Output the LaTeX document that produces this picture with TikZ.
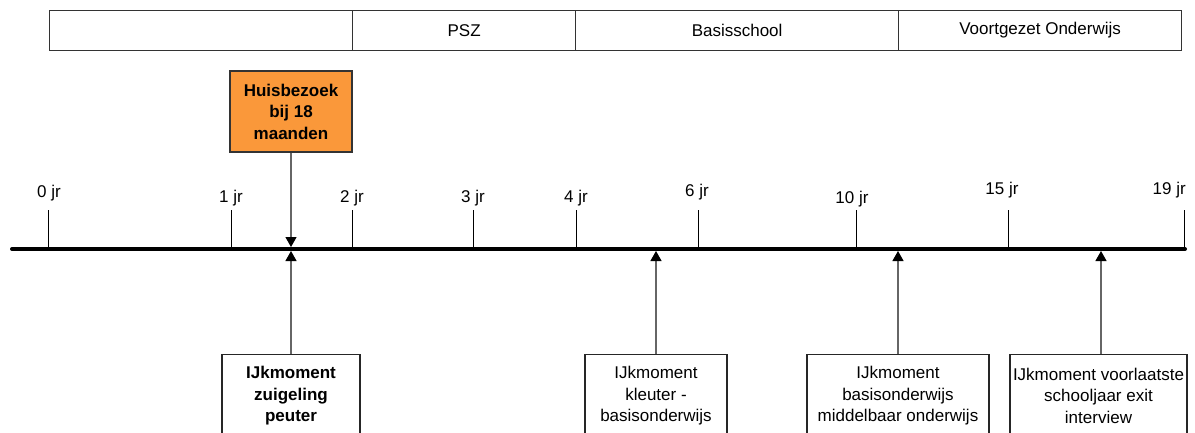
\documentclass[tikz,border=0pt]{standalone}
\usepackage{fontspec}
\setmainfont{Liberation Sans}
\usepackage{tikz}
\usetikzlibrary{arrows.meta}
\definecolor{huisoranje}{RGB}{250,152,58}
\newcommand{\tlfont}{\fontsize{17}{21.5}\selectfont}

\begin{document}
\begin{tikzpicture}[x=1pt,y=-1pt,font=\tlfont]
\tikzstyle{every node}+=[inner sep=0pt]
\tikzstyle{fase}=[draw=black!80,line width=1.2pt,minimum height=40pt,anchor=north west]
\tikzstyle{ijk}=[draw=black!85,line width=1.2pt,anchor=north,minimum height=82pt,align=center]
\tikzstyle{pijl}=[draw=black!60,line width=1.2pt,-{Triangle[width=11pt,length=10pt,color=black]}]
\useasboundingbox (0,0) rectangle (1195,432);
\clip (0,0) rectangle (1195,432);
\node [fase,minimum width=303pt] (leeg) at (49,10) {};
\node [fase,minimum width=223pt] (psz) at (352,10) {PSZ};
\node [fase,minimum width=323pt] (bs) at (575,10) {Basisschool};
\node [fase,minimum width=283pt] (vo) at (898,10) {Voortgezet Onderwijs};
\coordinate (begin) at (12,249);
\coordinate (eind) at (1185,249);
\foreach \x/\jr/\lx/\ly in {48/0/49/193,231/1/231/198,352/2/352/198,473/3/473/198,576/4/576/198,698/6/697/192,856/10/852/199,1008/15/1002/190}
{
  \draw [black,line width=1pt] (\x,210) -- (\x,249);
  \node (jr\jr) at (\lx,\ly) {\jr\ jr};
}
\draw [black,line width=1pt] (1184,210) -- (1184,249);
\node [anchor=east] (jr19) at (1186,190) {19 jr};
\draw [black,line width=4pt,line cap=round] (begin) -- (eind);
\node [draw=black!80,fill=huisoranje,line width=1.2pt,minimum width=122pt,minimum height=81pt,align=center,font=\tlfont\bfseries] (huis) at (291,111.5) {Huisbezoek\\bij 18\\maanden};
\coordinate (m18) at (291,247);
\draw [pijl] (huis.south) -- (m18);
\node [ijk,minimum width=138pt,font=\tlfont\bfseries] (zuig) at (291,354) {IJkmoment\\zuigeling\\peuter};
\node [ijk,minimum width=142pt] (kleut) at (656,354) {IJkmoment\\kleuter -\\basisonderwijs};
\node [ijk,minimum width=182pt] (bao) at (898,354) {IJkmoment\\basisonderwijs\\middelbaar onderwijs};
\node [ijk,minimum width=177pt] (exit) at (1098.5,354) {IJkmoment voorlaatste\\schooljaar exit\\interview};
\coordinate (p1) at (291,251);
\coordinate (p2) at (656,251);
\coordinate (p3) at (898,251);
\coordinate (p4) at (1101,251);
\draw [pijl] (zuig.north) -- (p1);
\draw [pijl] (kleut.north) -- (p2);
\draw [pijl] (bao.north) -- (p3);
\draw [pijl] (exit.north -| p4) -- (p4);
\end{tikzpicture}
\end{document}
